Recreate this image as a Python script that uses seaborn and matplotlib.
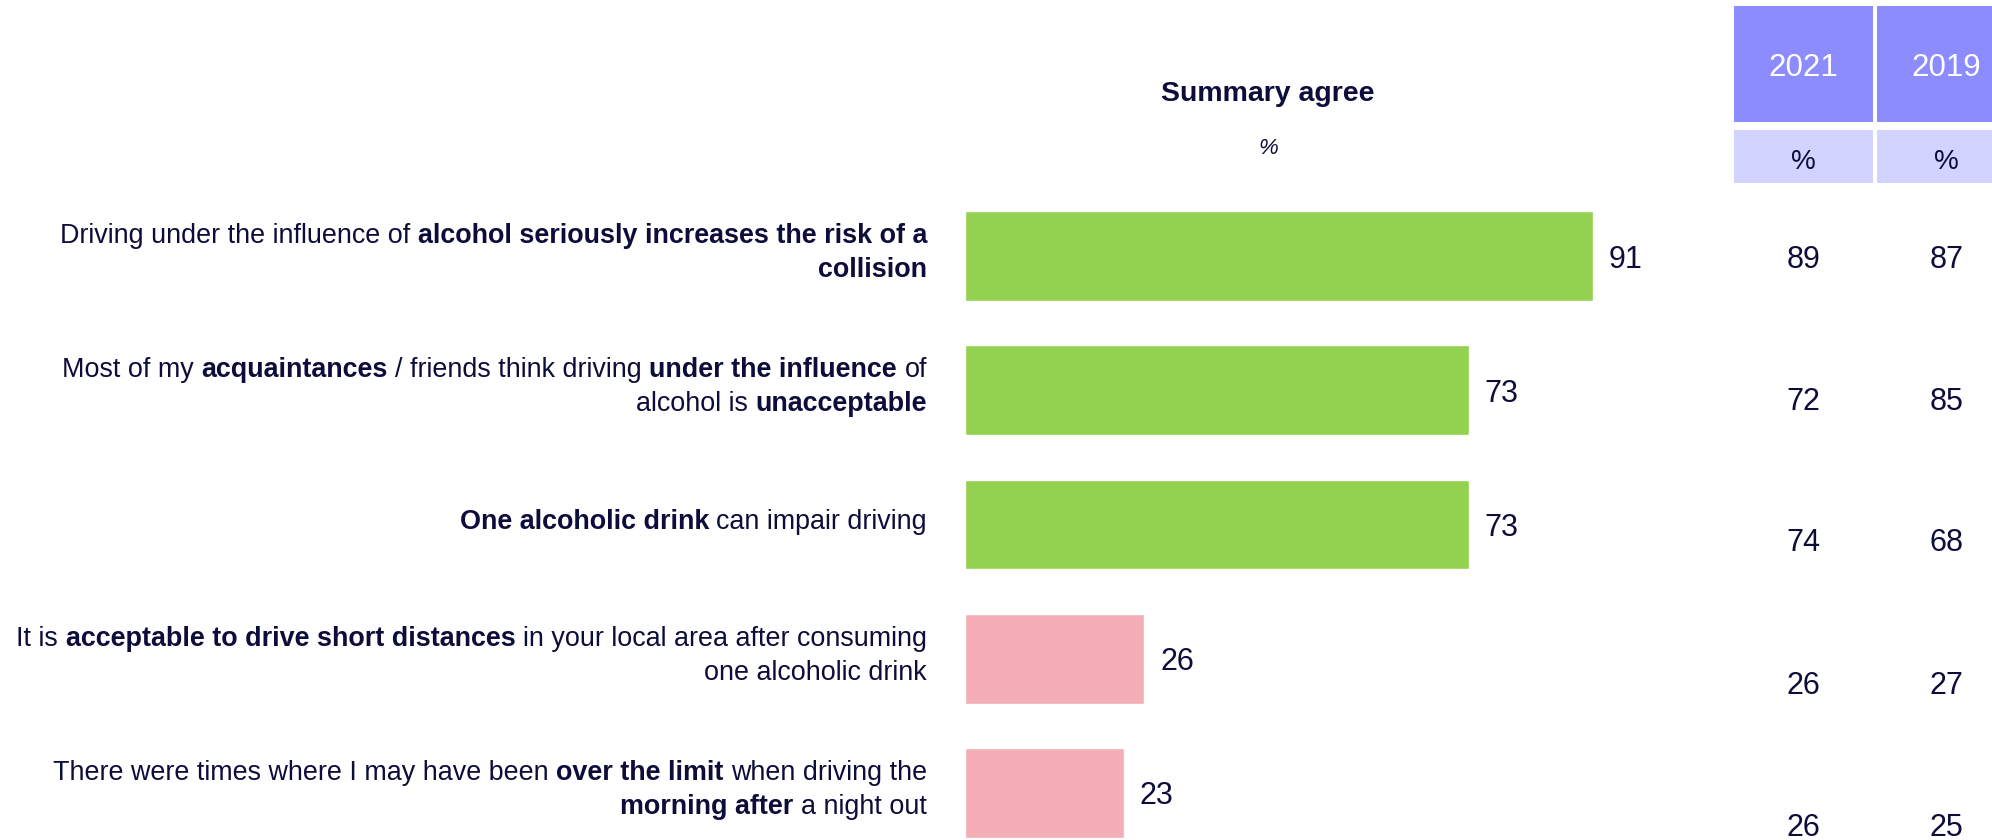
import matplotlib
matplotlib.use("Agg")
import matplotlib.pyplot as plt
import seaborn as sns
import pandas as pd
from matplotlib.patches import Rectangle

# ---- data -------------------------------------------------------------
statements = [
    "Driving under the influence of alcohol seriously increases the risk of a collision",
    "Most of my acquaintances / friends think driving under the influence of alcohol is unacceptable",
    "One alcoholic drink can impair driving",
    "It is acceptable to drive short distances in your local area after consuming one alcoholic drink",
    "There were times where I may have been over the limit when driving the morning after a night out",
]
summary_agree = [91, 73, 73, 26, 23]
agree_2021 = [89, 72, 74, 26, 26]
agree_2019 = [87, 85, 68, 27, 25]
table_years = ["2021", "2019"]

# statement text split into lines of (segment, is_bold)
statement_lines = [
    [[("Driving under the influence of", False), ("alcohol seriously increases the risk of a", True)],
     [("collision", True)]],
    [[("Most of my", False), ("acquaintances", True), ("/ friends think driving", False),
      ("under the influence", True), ("of", False)],
     [("alcohol is", False), ("unacceptable", True)]],
    [[("One alcoholic drink", True), ("can impair driving", False)]],
    [[("It is", False), ("acceptable to drive short distances", True),
      ("in your local area after consuming", False)],
     [("one alcoholic drink", False)]],
    [[("There were times where I may have been", False), ("over the limit", True),
      ("when driving the", False)],
     [("morning after", True), ("a night out", False)]],
]

# ---- style ------------------------------------------------------------
NAVY = "#0d0d3b"
GREEN = "#93d151"
PINK = "#f4aeb5"
HEAD_DARK = "#8c8cff"
HEAD_LIGHT = "#d3d3ff"
bar_colors = [GREEN, GREEN, GREEN, PINK, PINK]

sns.set_theme(style="white")
plt.rcParams["font.family"] = ["Liberation Sans", "DejaVu Sans"]

W, H = 1992, 840
fig = plt.figure(figsize=(W / 100, H / 100), dpi=100)

# ---- bars -------------------------------------------------------------
ax = fig.add_axes([965 / W, 1 - 839.9 / H, 690 / W, 650.9 / H])
df = pd.DataFrame({"statement": statements, "agree": summary_agree})
sns.barplot(data=df, x="agree", y="statement", hue="statement", palette=bar_colors,
            width=0.67, saturation=1, legend=False, ax=ax)
ax.set_xlim(0, 100)
ax.set_ylim(4.35, -0.5)
ax.axis("off")

for i, v in enumerate(summary_agree):
    ax.annotate(str(v), xy=(v, i), xytext=(11.5, -2.5), textcoords="offset points",
                ha="left", va="center", fontsize=22, color=NAVY)

# ---- overlay in pixel units for labels and side table -----------------
ov = fig.add_axes([0, 0, 1, 1])
ov.set_xlim(0, W)
ov.set_ylim(H, 0)
ov.axis("off")
ov.patch.set_alpha(0)

renderer = fig.canvas.get_renderer()
LABEL_SIZE = 19.4

probe1 = ov.text(0, 0, "a a", fontsize=LABEL_SIZE)
probe2 = ov.text(0, 0, "aa", fontsize=LABEL_SIZE)
space_w = probe1.get_window_extent(renderer).width - probe2.get_window_extent(renderer).width
probe1.remove()
probe2.remove()


def draw_line(segments, x_right, y_base):
    x = x_right
    for txt, bold in reversed(segments):
        t = ov.text(x, y_base, txt, ha="right", va="baseline", fontsize=LABEL_SIZE,
                    fontweight="bold" if bold else "normal", color=NAVY)
        x -= t.get_window_extent(renderer).width + space_w


bar_centers = [ax.transData.transform((0, i))[1] for i in range(len(statements))]
for lines, cy_disp in zip(statement_lines, bar_centers):
    cy = H - cy_disp
    if len(lines) == 1:
        draw_line(lines[0], 927, cy + 4)
    else:
        draw_line(lines[0], 927, cy - 13)
        draw_line(lines[1], 927, cy + 21)

# column heading over bars
ov.text(1268, 94, "Summary agree", ha="center", va="center", fontsize=20.5,
        fontweight="bold", color=NAVY)
ov.text(1268, 149, "%", ha="center", va="center", fontsize=16, style="italic",
        color=NAVY)

# side table
col_left = [1734, 1877]
col_w = 139
for year, xl in zip(table_years, col_left):
    ov.add_patch(Rectangle((xl, 6), col_w, 116, facecolor=HEAD_DARK, edgecolor="none"))
    ov.add_patch(Rectangle((xl, 130), col_w, 53, facecolor=HEAD_LIGHT, edgecolor="none"))
    ov.text(xl + col_w / 2, 68, year, ha="center", va="center", fontsize=22.5, color="white")
    ov.text(xl + col_w / 2, 162, "%", ha="center", va="center", fontsize=20, color=NAVY)

row_y = [260, 402, 543, 686, 828]
for vals, xl in zip([agree_2021, agree_2019], col_left):
    for v, y in zip(vals, row_y):
        ov.text(xl + col_w / 2, y, str(v), ha="center", va="center", fontsize=22, color=NAVY)

fig.savefig("out.png", dpi=100, facecolor="white")
